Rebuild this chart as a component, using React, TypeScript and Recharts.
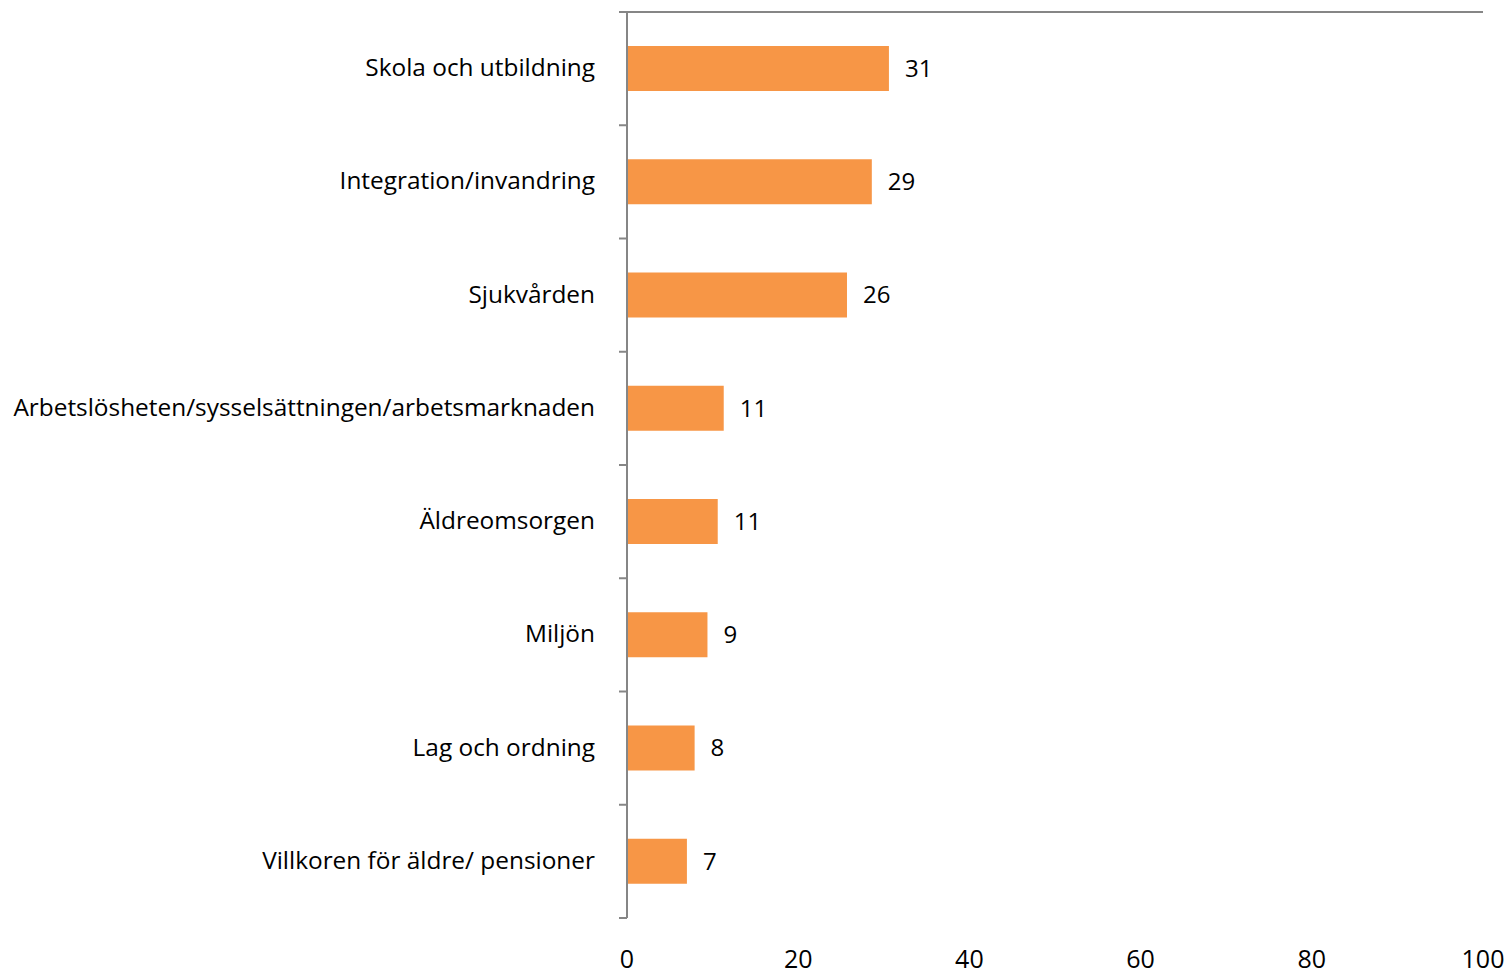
import { BarChart, Bar, XAxis, YAxis, LabelList } from 'recharts';

const categories = [
  'Skola och utbildning',
  'Integration/invandring',
  'Sjukvården',
  'Arbetslösheten/sysselsättningen/arbetsmarknaden',
  'Äldreomsorgen',
  'Miljön',
  'Lag och ordning',
  'Villkoren för äldre/ pensioner',
];

const values = [30.6, 28.6, 25.7, 11.3, 10.6, 9.4, 7.9, 7.0];

const xTicks = [0, 20, 40, 60, 80, 100];

const data = categories.map((name, i) => ({ name, value: values[i] }));

const FONT = '"Open Sans", sans-serif';
const AXIS_COLOR = '#868686';
const TICK_SIZE = 0;
const TICK_MARGIN = 32;
const PLOT_HEIGHT = 906;
const BAND = PLOT_HEIGHT / categories.length;

// category label + the small tick marks between categories
const CategoryTick = (props: any) => {
  const { x, y, payload, index } = props;
  const axisX = x + TICK_SIZE + TICK_MARGIN;
  return (
    <g>
      <text
        x={x}
        y={y - 2}
        textAnchor="end"
        dominantBaseline="central"
        fontSize={24.4}
        fontFamily={FONT}
        fill="#000"
      >
        {payload.value}
      </text>
      {index === 0 && (
        <line x1={axisX - 8} x2={axisX} y1={y - BAND / 2} y2={y - BAND / 2} stroke={AXIS_COLOR} strokeWidth={2} />
      )}
      <line x1={axisX - 8} x2={axisX} y1={y + BAND / 2} y2={y + BAND / 2} stroke={AXIS_COLOR} strokeWidth={2} />
    </g>
  );
};

export default function App() {
  return (
    <div style={{ position: 'absolute', left: 0, top: 0 }}>
      <BarChart
        width={1510}
        height={976}
        data={data}
        layout="vertical"
        margin={{ top: 11, right: 27, bottom: 18, left: 0 }}
        barCategoryGap="30%"
      >
        <XAxis
          xAxisId="top"
          type="number"
          orientation="top"
          domain={[0, 100]}
          height={1}
          tick={false}
          tickLine={false}
          axisLine={{ stroke: AXIS_COLOR, strokeWidth: 2 }}
        />
        <XAxis
          xAxisId="bottom"
          type="number"
          orientation="bottom"
          domain={[0, 100]}
          ticks={xTicks}
          height={40}
          axisLine={false}
          tickLine={false}
          tickSize={0}
          tickMargin={32}
          tick={{ fontSize: 25, fontFamily: FONT, fill: '#000' }}
          interval={0}
        />
        <YAxis
          type="category"
          dataKey="name"
          width={627}
          tickLine={false}
          tickSize={TICK_SIZE}
          tickMargin={TICK_MARGIN}
          axisLine={{ stroke: AXIS_COLOR, strokeWidth: 2 }}
          tick={<CategoryTick />}
          interval={0}
        />
        <Bar xAxisId="bottom" dataKey="value" fill="#F79646" isAnimationActive={false}>
          <LabelList
            dataKey="value"
            position="right"
            offset={16}
            formatter={(v: any) => Math.round(Number(v))}
            style={{ fontSize: 24, fontFamily: FONT, fill: '#000' }}
          />
        </Bar>
      </BarChart>
    </div>
  );
}
